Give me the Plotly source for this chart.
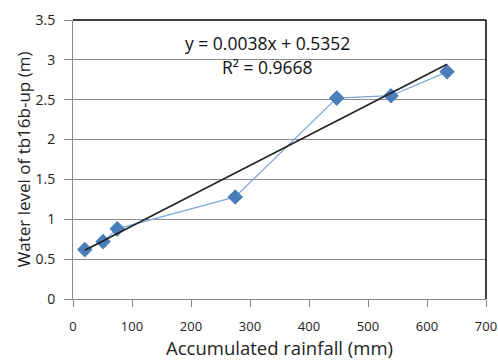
import plotly.graph_objects as go

rainfall = [20, 51, 75, 275, 447, 539, 634]
water_level = [0.62, 0.72, 0.88, 1.28, 2.52, 2.55, 2.85]
slope = 0.0038
intercept = 0.5352
eq_text = "y = 0.0038x + 0.5352"
r2_text = "R² = 0.9668"

trend_x = [min(rainfall), max(rainfall)]
trend_y = [slope * x + intercept for x in trend_x]

fig = go.Figure()
fig.add_trace(go.Scatter(x=rainfall, y=water_level, mode="lines+markers",
                         line=dict(color="#7fa7d6", width=1.3),
                         marker=dict(symbol="diamond", size=12, color="#4a7ebb"),
                         showlegend=False))
fig.add_trace(go.Scatter(x=trend_x, y=trend_y, mode="lines",
                         line=dict(color="#222222", width=1.6), showlegend=False))

fig.add_annotation(x=0.472, y=0.918, xref="paper", yref="paper", text=eq_text,
                   xanchor="center", yanchor="middle",
                   showarrow=False, font=dict(size=17.5, color="#111111"))
fig.add_annotation(x=0.472, y=0.832, xref="paper", yref="paper", text=r2_text,
                   xanchor="center", yanchor="middle",
                   showarrow=False, font=dict(size=17.5, color="#111111"))

fig.update_layout(
    width=498, height=362,
    margin=dict(l=73, r=12, t=20, b=63),
    paper_bgcolor="white", plot_bgcolor="white",
    font=dict(family="Open Sans, Liberation Sans, sans-serif", size=14, color="#222222"),
    xaxis=dict(range=[0, 700], dtick=100, showgrid=False, ticks="outside", ticklen=7,
               tickcolor="#888888", linecolor="#888888", mirror=False, zeroline=False,
               automargin=False, ticklabelstandoff=8, ticklabeloverflow="allow",
               tickfont=dict(size=13),
               title=dict(text="Accumulated rainfall (mm)", font=dict(size=18.5), standoff=0)),
    yaxis=dict(range=[0, 3.5], dtick=0.5, showgrid=True, gridcolor="#8a8a8a", gridwidth=1.2,
               ticks="outside", ticklen=8, tickcolor="#888888", linecolor="#888888",
               zeroline=False, automargin=False, ticklabelstandoff=6,
               title=dict(text="Water level of tb16b-up (m)", font=dict(size=17), standoff=0)),
)
fig.add_shape(type="line", xref="paper", yref="paper", x0=0, x1=1, y0=1, y1=1,
              line=dict(color="#000000", width=1.5))
fig.add_shape(type="line", xref="paper", yref="paper", x0=1, x1=1, y0=0, y1=1,
              line=dict(color="#000000", width=1.5))
fig.write_html("out.html", config={"displayModeBar": False},
               post_script="document.body.style.margin='0';document.body.style.overflow='hidden';")
